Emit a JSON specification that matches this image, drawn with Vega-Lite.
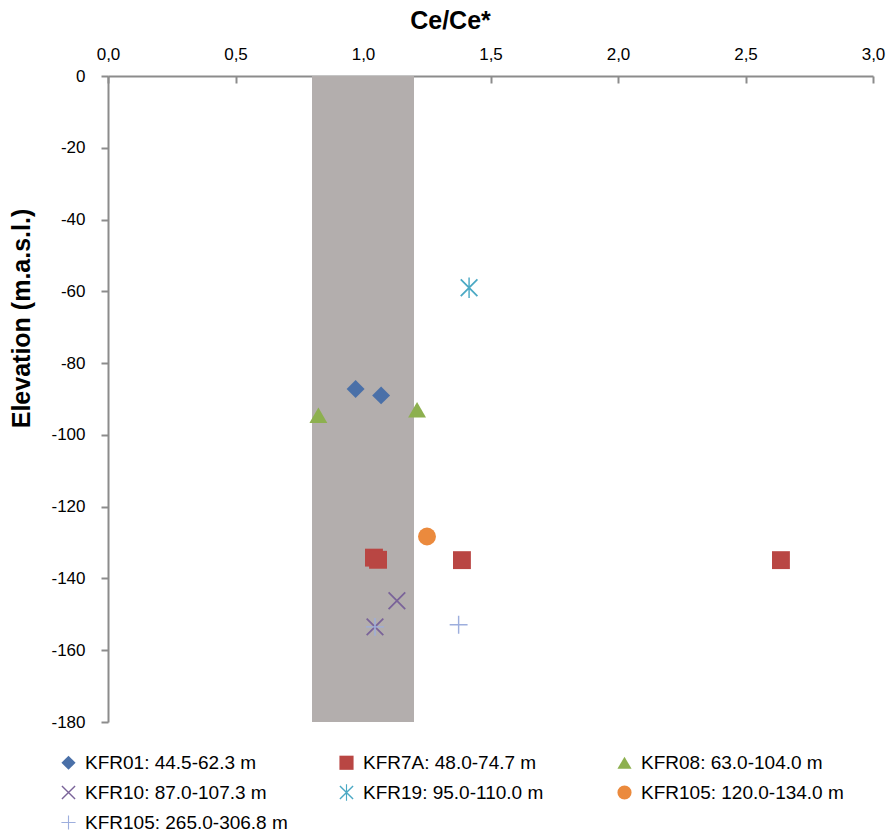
{
  "$schema": "https://vega.github.io/schema/vega-lite/v6.json",
  "width": 765,
  "height": 646,
  "autosize": "none",
  "padding": {"left": 108, "top": 76, "right": 16, "bottom": 109},
  "background": "white",
  "config": {
    "view": {"stroke": null},
    "font": "Liberation Sans"
  },
  "datasets": {
    "band": [{"lo": 0.8, "hi": 1.2, "top": 0, "bottom": -180}],
    "samples": [
      {"series": "KFR01: 44.5-62.3 m", "ce": 0.971, "elev": -87.2},
      {"series": "KFR01: 44.5-62.3 m", "ce": 1.071, "elev": -89.0},
      {"series": "KFR7A: 48.0-74.7 m", "ce": 1.043, "elev": -134.2},
      {"series": "KFR7A: 48.0-74.7 m", "ce": 1.059, "elev": -134.8},
      {"series": "KFR7A: 48.0-74.7 m", "ce": 1.388, "elev": -134.9},
      {"series": "KFR7A: 48.0-74.7 m", "ce": 2.639, "elev": -134.9},
      {"series": "KFR08: 63.0-104.0 m", "ce": 0.825, "elev": -94.5},
      {"series": "KFR08: 63.0-104.0 m", "ce": 1.212, "elev": -93.0},
      {"series": "KFR10: 87.0-107.3 m", "ce": 1.133, "elev": -146.2},
      {"series": "KFR10: 87.0-107.3 m", "ce": 1.047, "elev": -153.5},
      {"series": "KFR19: 95.0-110.0 m", "ce": 1.416, "elev": -59.0},
      {"series": "KFR105: 120.0-134.0 m", "ce": 1.251, "elev": -128.3},
      {"series": "KFR105: 265.0-306.8 m", "ce": 1.375, "elev": -152.9},
      {"series": "KFR105: 265.0-306.8 m", "ce": 1.047, "elev": -153.5}
    ]
  },
  "layer": [
    {
      "data": {"name": "band"},
      "mark": {"type": "rect", "color": "#B3AEAD"},
      "encoding": {
        "x": {"field": "lo", "type": "quantitative", "scale": {"domain": [0, 3], "nice": false, "zero": false}},
        "x2": {"field": "hi"},
        "y": {"field": "top", "type": "quantitative", "scale": {"domain": [-180, 0], "nice": false, "zero": false}},
        "y2": {"field": "bottom"}
      }
    },
    {
      "data": {"name": "samples"},
      "mark": {"type": "point", "filled": true, "opacity": 1, "size": 320},
      "encoding": {
        "x": {
          "field": "ce",
          "type": "quantitative",
          "axis": {
            "orient": "top",
            "title": "Ce/Ce*",
            "titleFontSize": 25,
            "titleFontWeight": "bold",
            "titleColor": "#000000",
            "titleX": 342,
            "titleY": -56,
            "titleBaseline": "middle",
            "titleAlign": "center",
            "values": [0, 0.5, 1, 1.5, 2, 2.5, 3],
            "labelExpr": "replace(format(datum.value, '.1f'), '.', ',')",
            "labelFontSize": 17,
            "labelColor": "#000000",
            "labelPadding": 20,
            "labelFlush": false,
            "labelOverlap": false,
            "tickSize": -7,
            "tickColor": "#8C8C8C",
            "tickWidth": 2,
            "domainColor": "#8C8C8C",
            "domainWidth": 2,
            "grid": false
          }
        },
        "y": {
          "field": "elev",
          "type": "quantitative",
          "axis": {
            "title": "Elevation (m.a.s.l.)",
            "titleFontSize": 25,
            "titleFontWeight": "bold",
            "titleColor": "#000000",
            "titleAngle": -90,
            "titleX": -87,
            "titleY": 242,
            "titleBaseline": "middle",
            "titleAlign": "center",
            "values": [0, -20, -40, -60, -80, -100, -120, -140, -160, -180],
            "labelExpr": "datum.value",
            "labelFontSize": 17,
            "labelColor": "#000000",
            "labelPadding": 16,
            "labelOverlap": false,
            "labelFlush": false,
            "tickSize": 7,
            "tickColor": "#8C8C8C",
            "tickWidth": 2,
            "domainColor": "#8C8C8C",
            "domainWidth": 2,
            "grid": false
          }
        },
        "color": {
          "field": "series",
          "type": "nominal",
          "sort": null,
          "scale": {
            "domain": ["KFR01: 44.5-62.3 m", "KFR7A: 48.0-74.7 m", "KFR08: 63.0-104.0 m", "KFR10: 87.0-107.3 m", "KFR19: 95.0-110.0 m", "KFR105: 120.0-134.0 m", "KFR105: 265.0-306.8 m"],
            "range": ["#4A70A8", "#B94643", "#8DB04F", "#7A6399", "#4BA9C4", "#EB8A3D", "#9DAEDD"]
          },
          "legend": {
            "orient": "none",
            "legendX": -49,
            "legendY": 677,
            "direction": "horizontal",
            "columns": 3,
            "gridAlign": "all",
            "columnPadding": 49,
            "rowPadding": 10,
            "title": null,
            "labelFontSize": 19,
            "labelColor": "#000000",
            "labelOffset": 7,
            "labelLimit": 400,
            "symbolSize": 200,
            "symbolOpacity": 1,
            "padding": 0
          }
        },
        "shape": {
          "field": "series",
          "type": "nominal",
          "sort": null,
          "scale": {
            "domain": ["KFR01: 44.5-62.3 m", "KFR7A: 48.0-74.7 m", "KFR08: 63.0-104.0 m", "KFR10: 87.0-107.3 m", "KFR19: 95.0-110.0 m", "KFR105: 120.0-134.0 m", "KFR105: 265.0-306.8 m"],
            "range": [
              "diamond",
              "square",
              "triangle-up",
              "M-1,-0.86L-0.86,-1L1,0.86L0.86,1Z M0.86,-1L1,-0.86L-0.86,1L-1,0.86Z",
              "M-1,-0.86L-0.86,-1L1,0.86L0.86,1Z M0.86,-1L1,-0.86L-0.86,1L-1,0.86Z M-0.08,-1.15L0.08,-1.15L0.08,1.15L-0.08,1.15Z",
              "circle",
              "M-1,-0.08L1,-0.08L1,0.08L-1,0.08Z M-0.08,-1L0.08,-1L0.08,1L-0.08,1Z"
            ]
          },
          "legend": null
        }
      }
    }
  ]
}
